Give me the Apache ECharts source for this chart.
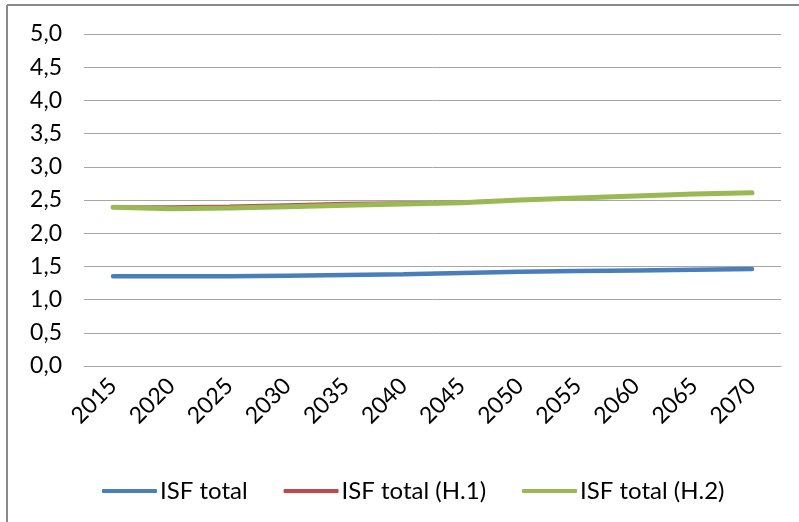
<!DOCTYPE html>
<html>
<head>
<meta charset="utf-8">
<script src="https://cdn.jsdelivr.net/npm/echarts@6/dist/echarts.min.js"></script>
<style>
html,body{margin:0;padding:0;background:#fff;}
#c{width:799px;height:522px;}
</style>
</head>
<body>
<div id="c"></div>
<script>
const years = ['2015','2020','2025','2030','2035','2040','2045','2050','2055','2060','2065','2070'];
const isfTotal = [1.35,1.35,1.35,1.36,1.37,1.38,1.40,1.42,1.43,1.44,1.45,1.46];
const isfH1 = [2.40,2.40,2.41,2.43,2.45,2.46,2.47,2.50,2.53,2.56,2.59,2.61];
const isfH2 = [2.39,2.37,2.38,2.40,2.42,2.44,2.46,2.50,2.53,2.56,2.59,2.61];
const seriesNames = ['ISF total','ISF total (H.1)','ISF total (H.2)'];
const yMin = 0, yMax = 5, yStep = 0.5;

const font = 'Lato, "Open Sans", sans-serif';
const chart = echarts.init(document.getElementById('c'), null, {renderer:'canvas'});
chart.setOption({
  animation:false,
  backgroundColor:'#fff',
  grid:{left:84,right:18,top:34,bottom:156,containLabel:false},
  graphic:[
    {type:'line',shape:{x1:7,y1:5,x2:7,y2:522},style:{stroke:'#8a8a8a',lineWidth:2}},
    {type:'line',shape:{x1:7,y1:5,x2:799,y2:5},style:{stroke:'#8a8a8a',lineWidth:2}}
  ],
  legend:{
    left:97, top:474,
    itemWidth:55, itemHeight:4, itemGap:36, icon:'roundRect',
    textStyle:{fontFamily:font,fontSize:24,color:'#000',padding:[0,0,0,-2]},
    data:seriesNames
  },
  xAxis:{
    type:'category', data:years, boundaryGap:true,
    axisLine:{show:true,lineStyle:{color:'#a6a6a6',width:1}},
    axisTick:{show:false},
    axisLabel:{rotate:45,margin:16,fontFamily:font,fontSize:23,color:'#000',interval:0}
  },
  yAxis:{
    type:'value', min:yMin, max:yMax, interval:yStep,
    axisLine:{show:false}, axisTick:{show:false},
    splitLine:{lineStyle:{color:'#a6a6a6',width:1}},
    axisLabel:{margin:22,fontFamily:font,fontSize:23,color:'#000',
      formatter:v=>v.toFixed(1).replace('.',',')}
  },
  series:[
    {name:seriesNames[0],type:'line',data:isfTotal,showSymbol:false,symbol:'none',
     lineStyle:{color:'#4a7ebb',width:4.5,cap:'round'},itemStyle:{color:'#4a7ebb'}},
    {name:seriesNames[1],type:'line',data:isfH1,showSymbol:false,symbol:'none',
     lineStyle:{color:'#be4b48',width:3,cap:'round'},itemStyle:{color:'#be4b48'}},
    {name:seriesNames[2],type:'line',data:isfH2,showSymbol:false,symbol:'none',
     lineStyle:{color:'#98b954',width:5,cap:'round'},itemStyle:{color:'#98b954'}}
  ]
});
</script>
</body>
</html>
